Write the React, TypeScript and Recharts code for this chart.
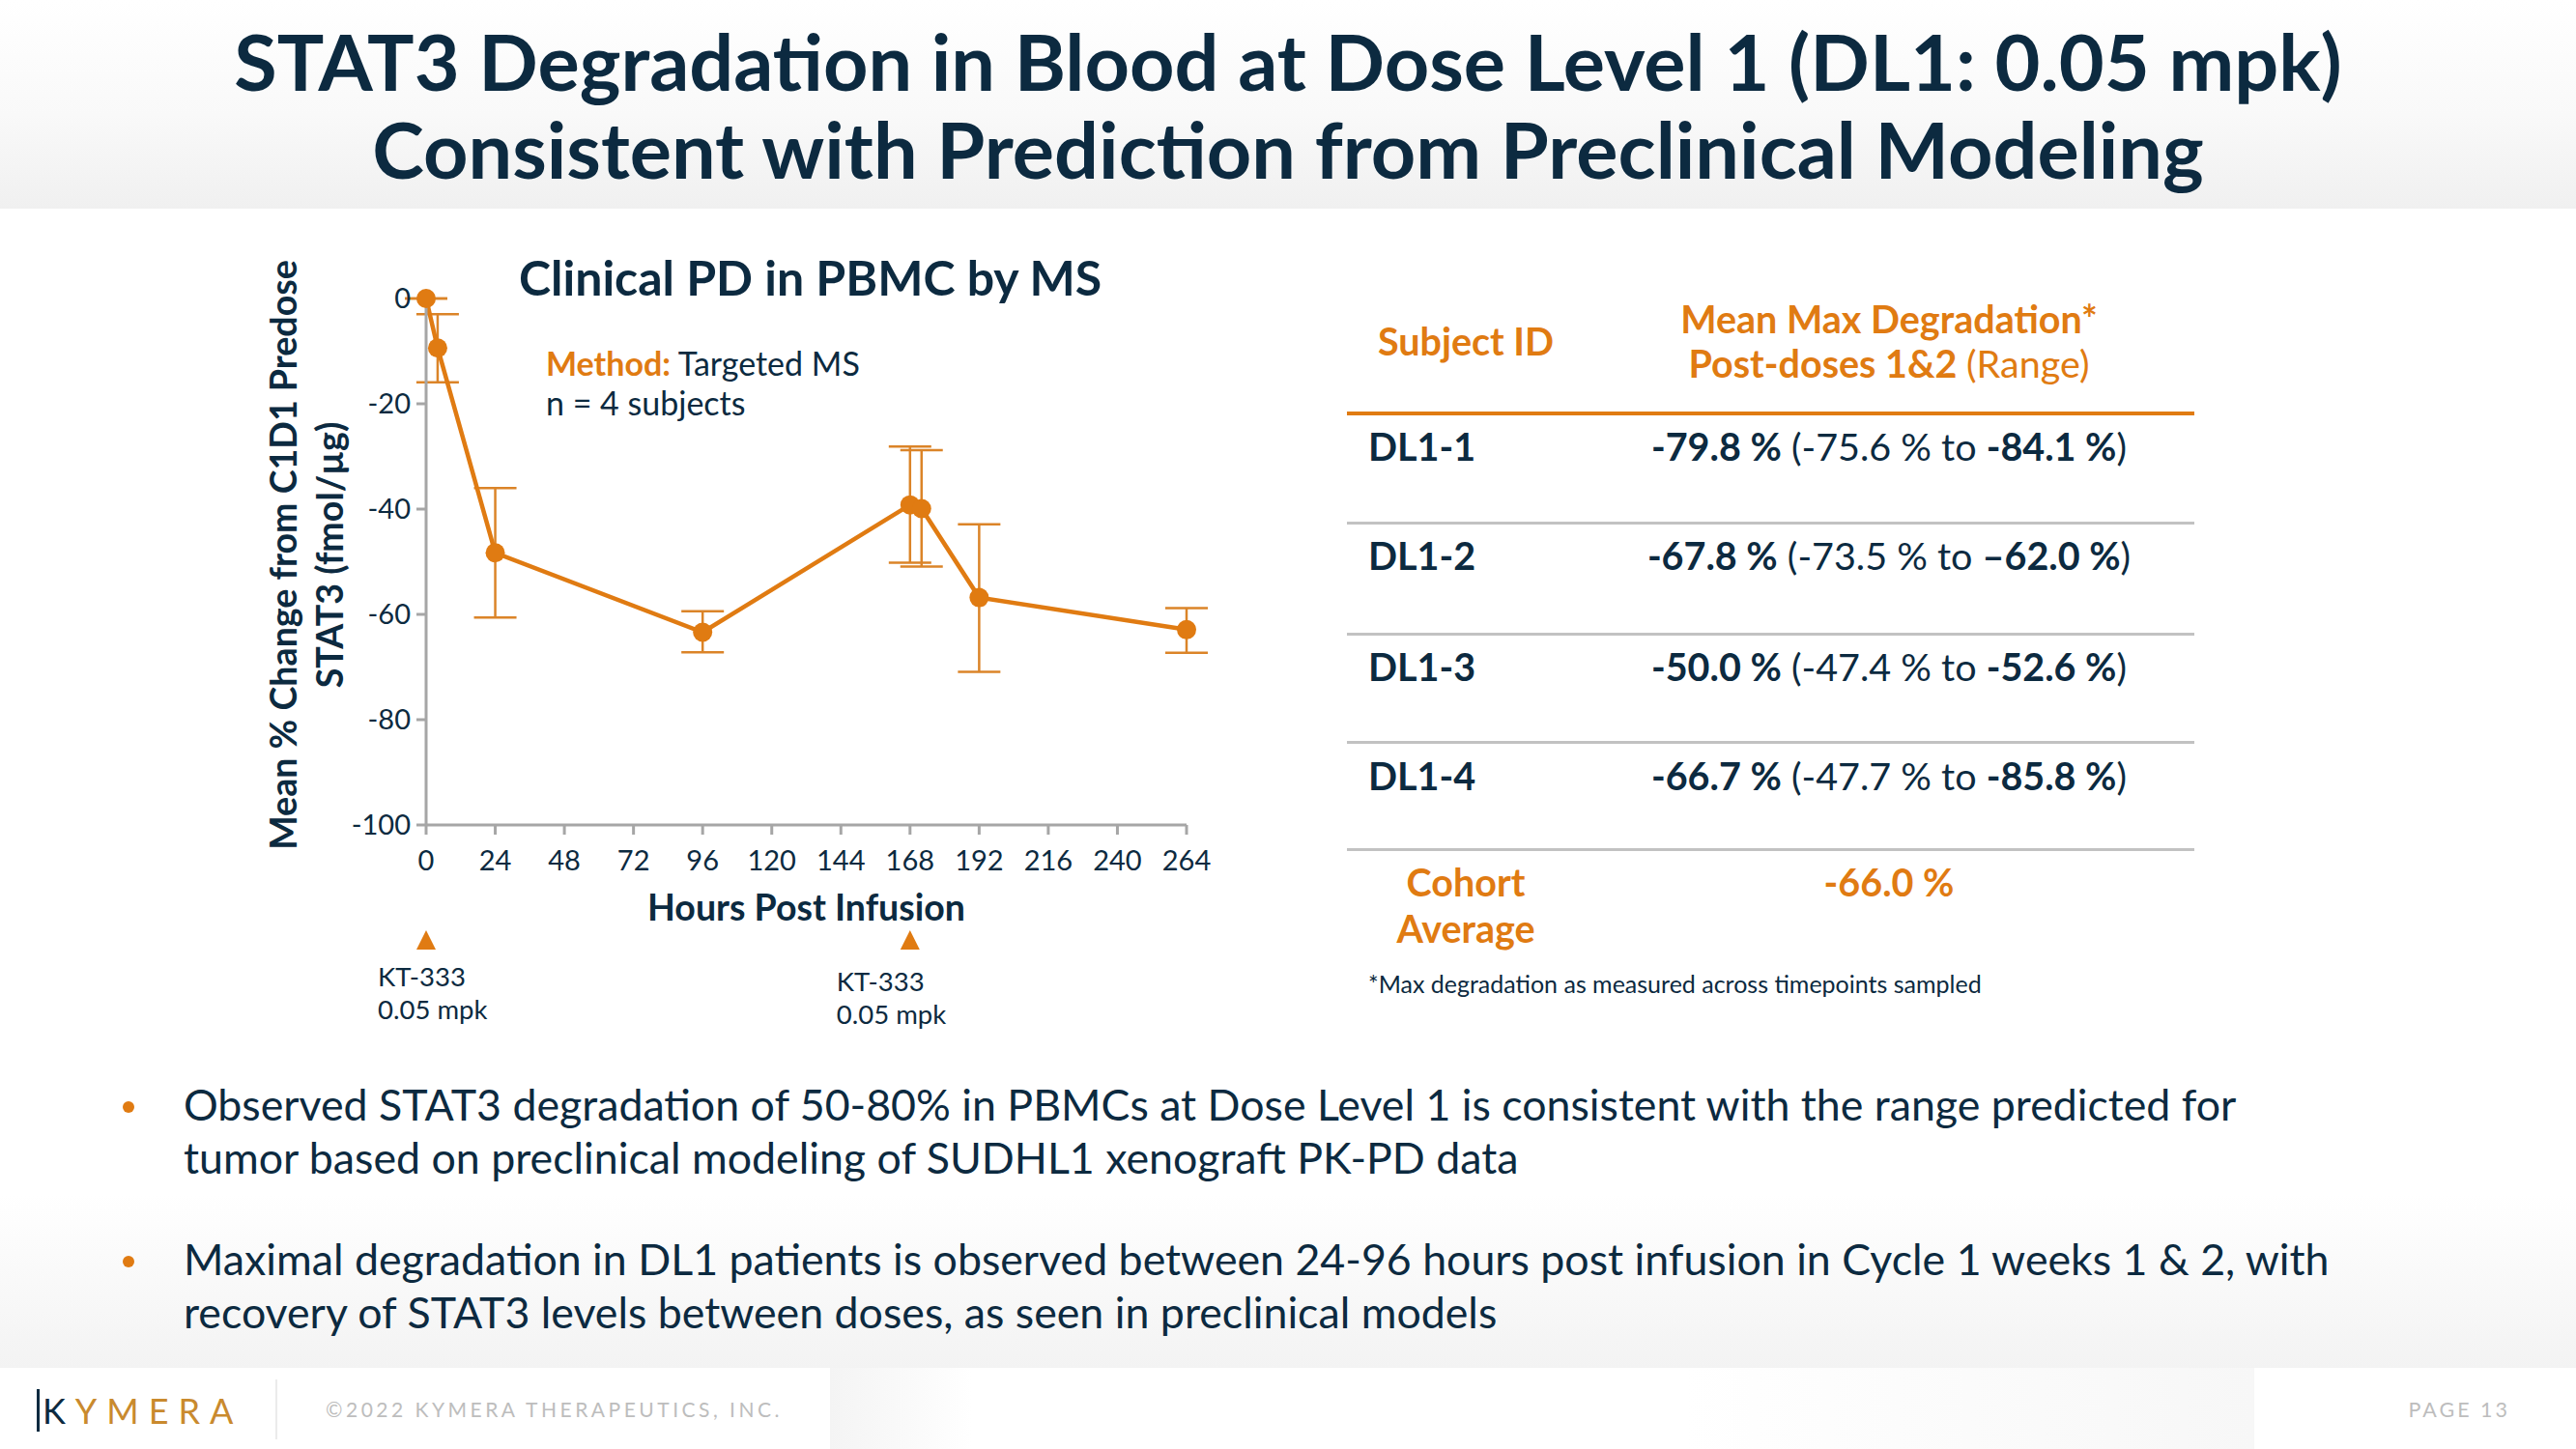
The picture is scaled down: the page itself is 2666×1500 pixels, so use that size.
import React from 'react';
import { LineChart, Line, XAxis, YAxis, ErrorBar, ReferenceDot } from 'recharts';

// ---------- data ----------
const hours = [0, 4, 24, 96, 168, 172, 192, 264];
const meanChange = [0, -9.4, -48.3, -63.4, -39.2, -39.9, -56.8, -62.9];
const errBelow = [0, 6.5, 12.3, 3.8, 11.0, 11.0, 14.1, 4.4];
const errAbove = [0, 6.4, 12.3, 4.0, 11.1, 11.1, 13.9, 4.1];
const xTicks = [0, 24, 48, 72, 96, 120, 144, 168, 192, 216, 240, 264];
const yTicks = [0, -20, -40, -60, -80, -100];

const doseHours = [0, 168];
const doseDrug = ['KT-333', 'KT-333'];
const doseAmount = ['0.05 mpk', '0.05 mpk'];
const doseMarkerLevel = -122;

const subjectIds = ['DL1-1', 'DL1-2', 'DL1-3', 'DL1-4'];
const meanMax = ['-79.8 %', '-67.8 %', '-50.0 %', '-66.7 %'];
const rangeFrom = ['-75.6 %', '-73.5 %', '-47.4 %', '-47.7 %'];
const rangeTo = ['-84.1 %', '\u201362.0 %', '-52.6 %', '-85.8 %'];
const cohortAverage = '-66.0 %';

const bullets = [
  [
    'Observed STAT3 degradation of 50-80% in PBMCs at Dose Level 1 is consistent with the range predicted for',
    'tumor based on preclinical modeling of SUDHL1 xenograft PK-PD data',
  ],
  [
    'Maximal degradation in DL1 patients is observed between 24-96 hours post infusion in Cycle 1 weeks 1 & 2, with',
    'recovery of STAT3 levels between doses, as seen in preclinical models',
  ],
];

const chartData = hours.map((h, i) => ({
  hour: h,
  change: meanChange[i],
  err: [errBelow[i], errAbove[i]],
}));

// ---------- style ----------
const NAVY = '#0C2A40';
const ORANGE = '#E07B12';
const ERR = '#DB8428';
const AXIS = '#A6A6A6';
const FONT = 'Lato, "Open Sans", sans-serif';

const doseLabelStyle = [
  { dx: -50, dy1: 47, dy2: 81 },
  { dx: -76, dy1: 52, dy2: 86 },
];

const YTitle = (props: any) => {
  const vb = props.viewBox || { x: 341, y: 309, width: 100, height: 546 };
  const cy = vb.y + vb.height / 2 - 7;
  const x1 = vb.x - 49;
  const x2 = vb.x - 1;
  return (
    <g>
      <text
        x={x1}
        y={cy}
        transform={`rotate(-90, ${x1}, ${cy})`}
        textAnchor="middle"
        dominantBaseline="central"
        fill={NAVY}
        fontFamily={FONT}
        fontWeight={700}
        fontSize={37.6}
      >
        Mean % Change from C1D1 Predose
      </text>
      <text
        x={x2}
        y={cy}
        transform={`rotate(-90, ${x2}, ${cy})`}
        textAnchor="middle"
        dominantBaseline="central"
        fill={NAVY}
        fontFamily={FONT}
        fontWeight={700}
        fontSize={37.6}
      >
        STAT3 (fmol/µg)
      </text>
    </g>
  );
};

const XTitle = (props: any) => {
  const vb = props.viewBox || { x: 441, y: 855, width: 787, height: 60 };
  return (
    <text
      x={vb.x + vb.width / 2}
      y={vb.y + 99}
      textAnchor="middle"
      fill={NAVY}
      fontFamily={FONT}
      fontWeight={700}
      fontSize={37.5}
    >
      Hours Post Infusion
    </text>
  );
};

const doseShape = (idx: number) => (props: any) => {
  const { cx, cy } = props;
  const s = doseLabelStyle[idx];
  return (
    <g>
      <polygon
        points={`${cx},${cy - 11} ${cx - 10},${cy + 9} ${cx + 10},${cy + 9}`}
        fill={ORANGE}
      />
      <text x={cx + s.dx} y={cy + s.dy1} fill={NAVY} fontFamily={FONT} fontSize={27.5}>
        {doseDrug[idx]}
      </text>
      <text x={cx + s.dx} y={cy + s.dy2} fill={NAVY} fontFamily={FONT} fontSize={27.5}>
        {doseAmount[idx]}
      </text>
    </g>
  );
};

const abs = (extra: React.CSSProperties): React.CSSProperties => ({
  position: 'absolute',
  fontFamily: FONT,
  margin: 0,
  whiteSpace: 'nowrap',
  ...extra,
});

export default function App() {
  const rowCenters = [462, 575, 690, 803];
  const lineYs = [541, 656, 768, 879];
  const T = 39.5;
  return (
    <div
      style={{
        position: 'absolute',
        left: 0,
        top: 0,
        width: 2666,
        height: 1500,
        overflow: 'hidden',
        background: '#ffffff',
        fontFamily: FONT,
      }}
    >
      {/* header band */}
      <div
        style={{
          position: 'absolute',
          left: 0,
          top: 0,
          width: 2666,
          height: 216,
          background: 'linear-gradient(to bottom, #ffffff 0%, #f9f9f9 55%, #f0f0f0 100%)',
        }}
      />
      {/* lower band */}
      <div
        style={{
          position: 'absolute',
          left: 0,
          top: 1090,
          width: 2666,
          height: 326,
          background: 'linear-gradient(to bottom, #ffffff 0%, #ffffff 45%, #f3f3f3 100%)',
        }}
      />
      {/* footer */}
      <div
        style={{
          position: 'absolute',
          left: 859,
          top: 1416,
          width: 1474,
          height: 84,
          background: 'linear-gradient(to right, #f4f4f4 0%, #ffffff 10%, #ffffff 60%, #f7f7f7 100%)',
        }}
      />

      <div
        style={abs({
          left: 0,
          top: 17,
          width: 2666,
          textAlign: 'center',
          fontSize: 81,
          lineHeight: '91px',
          fontWeight: 700,
          color: NAVY,
        })}
      >
        STAT3 Degradation in Blood at Dose Level 1 (DL1: 0.05 mpk)
        <br />
        Consistent with Prediction from Preclinical Modeling
      </div>

      {/* chart */}
      <div style={{ position: 'absolute', left: 0, top: 0 }}>
        <LineChart
          width={1300}
          height={1100}
          data={chartData}
          margin={{ top: 309, right: 72, bottom: 186, left: 341 }}
        >
          <XAxis
            dataKey="hour"
            type="number"
            domain={[0, 264]}
            ticks={xTicks}
            interval={0}
            height={60}
            tickSize={10}
            tickMargin={16}
            axisLine={{ stroke: AXIS, strokeWidth: 3 }}
            tickLine={{ stroke: AXIS, strokeWidth: 3 }}
            tick={{ fill: NAVY, fontSize: 29, fontFamily: FONT }}
            label={<XTitle />}
          />
          <YAxis
            type="number"
            domain={[-100, 0]}
            ticks={yTicks}
            interval={0}
            width={100}
            tickSize={10}
            tickMargin={6}
            axisLine={{ stroke: AXIS, strokeWidth: 3 }}
            tickLine={{ stroke: AXIS, strokeWidth: 3 }}
            tick={{ fill: NAVY, fontSize: 29, fontFamily: FONT }}
            label={<YTitle />}
          />
          <Line
            dataKey="change"
            stroke={ORANGE}
            strokeWidth={4.5}
            dot={{ r: 10, fill: ORANGE, stroke: 'none' }}
            activeDot={false}
            isAnimationActive={false}
          >
            <ErrorBar dataKey="err" width={22} stroke={ERR} strokeWidth={2.5} direction="y" />
          </Line>
          {doseHours.map((h, i) => (
            <ReferenceDot
              key={i}
              x={h}
              y={doseMarkerLevel}
              ifOverflow="visible"
              shape={doseShape(i)}
            />
          ))}
        </LineChart>
      </div>

      <div style={abs({ left: 537, top: 262, fontSize: 50, fontWeight: 700, color: NAVY, lineHeight: '50px' })}>
        Clinical PD in PBMC by MS
      </div>
      <div style={abs({ left: 565, top: 355, fontSize: 34, color: NAVY, lineHeight: '41px' })}>
        <span style={{ color: ORANGE, fontWeight: 700 }}>Method:</span> Targeted MS
        <br />n = 4 subjects
      </div>

      {/* table */}
      <div style={abs({ left: 1394, top: 330, width: 246, textAlign: 'center', fontSize: T, fontWeight: 700, color: ORANGE, lineHeight: '46px' })}>
        Subject ID
      </div>
      <div
        style={abs({ left: 1700, top: 307, width: 510, textAlign: 'center', fontSize: T, fontWeight: 700, color: ORANGE, lineHeight: '46px' })}
      >
        Mean Max Degradation*
        <br />
        Post-doses 1&amp;2 <span style={{ fontWeight: 400 }}>(Range)</span>
      </div>
      <div style={{ position: 'absolute', left: 1394, top: 426, width: 877, height: 4, background: ORANGE }} />
      {subjectIds.map((id, i) => (
        <React.Fragment key={id}>
          <div style={abs({ left: 1416, top: rowCenters[i] - 23, fontSize: T, fontWeight: 700, color: NAVY, lineHeight: '46px' })}>
            {id}
          </div>
          <div
            style={abs({ left: 1700, top: rowCenters[i] - 23, width: 510, textAlign: 'center', fontSize: T, color: NAVY, lineHeight: '46px' })}
          >
            <b>{meanMax[i]}</b> ({rangeFrom[i]} to <b>{rangeTo[i]}</b>)
          </div>
          <div style={{ position: 'absolute', left: 1394, top: lineYs[i] - 1, width: 877, height: 3, background: '#C2C2C2' }} />
        </React.Fragment>
      ))}
      <div style={abs({ left: 1394, top: 889, width: 246, textAlign: 'center', fontSize: T, fontWeight: 700, color: ORANGE, lineHeight: '48px' })}>
        Cohort
        <br />
        Average
      </div>
      <div style={abs({ left: 1700, top: 889, width: 510, textAlign: 'center', fontSize: T, fontWeight: 700, color: ORANGE, lineHeight: '48px' })}>
        {cohortAverage}
      </div>
      <div style={abs({ left: 1416, top: 1004, fontSize: 25, color: NAVY, lineHeight: '28px' })}>
        *Max degradation as measured across timepoints sampled
      </div>

      {/* bullets */}
      {bullets.map((lines, i) => (
        <React.Fragment key={i}>
          <div
            style={{
              position: 'absolute',
              left: 127,
              top: 1140 + i * 160,
              width: 12,
              height: 12,
              borderRadius: 6,
              background: ORANGE,
            }}
          />
          <div style={abs({ left: 190, top: 1116 + i * 160, fontSize: 44.7, color: NAVY, lineHeight: '55px' })}>
            {lines[0]}
            <br />
            {lines[1]}
          </div>
        </React.Fragment>
      ))}

      {/* footer */}
      <div style={{ position: 'absolute', left: 38, top: 1438, width: 3, height: 44, background: NAVY }} />
      <div style={abs({ left: 44, top: 1439, fontSize: 36, lineHeight: '42px', letterSpacing: 10, color: '#C98A2E' })}>
        <span style={{ color: NAVY }}>K</span>YMERA
      </div>
      <div style={{ position: 'absolute', left: 285, top: 1428, width: 2, height: 62, background: '#EBEBEB' }} />
      <div style={abs({ left: 337, top: 1447, fontSize: 21, lineHeight: '24px', letterSpacing: 3.5, color: '#BDBDBD' })}>
        ©2022 KYMERA THERAPEUTICS, INC.
      </div>
      <div style={abs({ left: 2440, top: 1447, width: 158, textAlign: 'right', fontSize: 21.5, lineHeight: '24px', letterSpacing: 3, color: '#BDBDBD' })}>
        PAGE 13
      </div>
    </div>
  );
}
